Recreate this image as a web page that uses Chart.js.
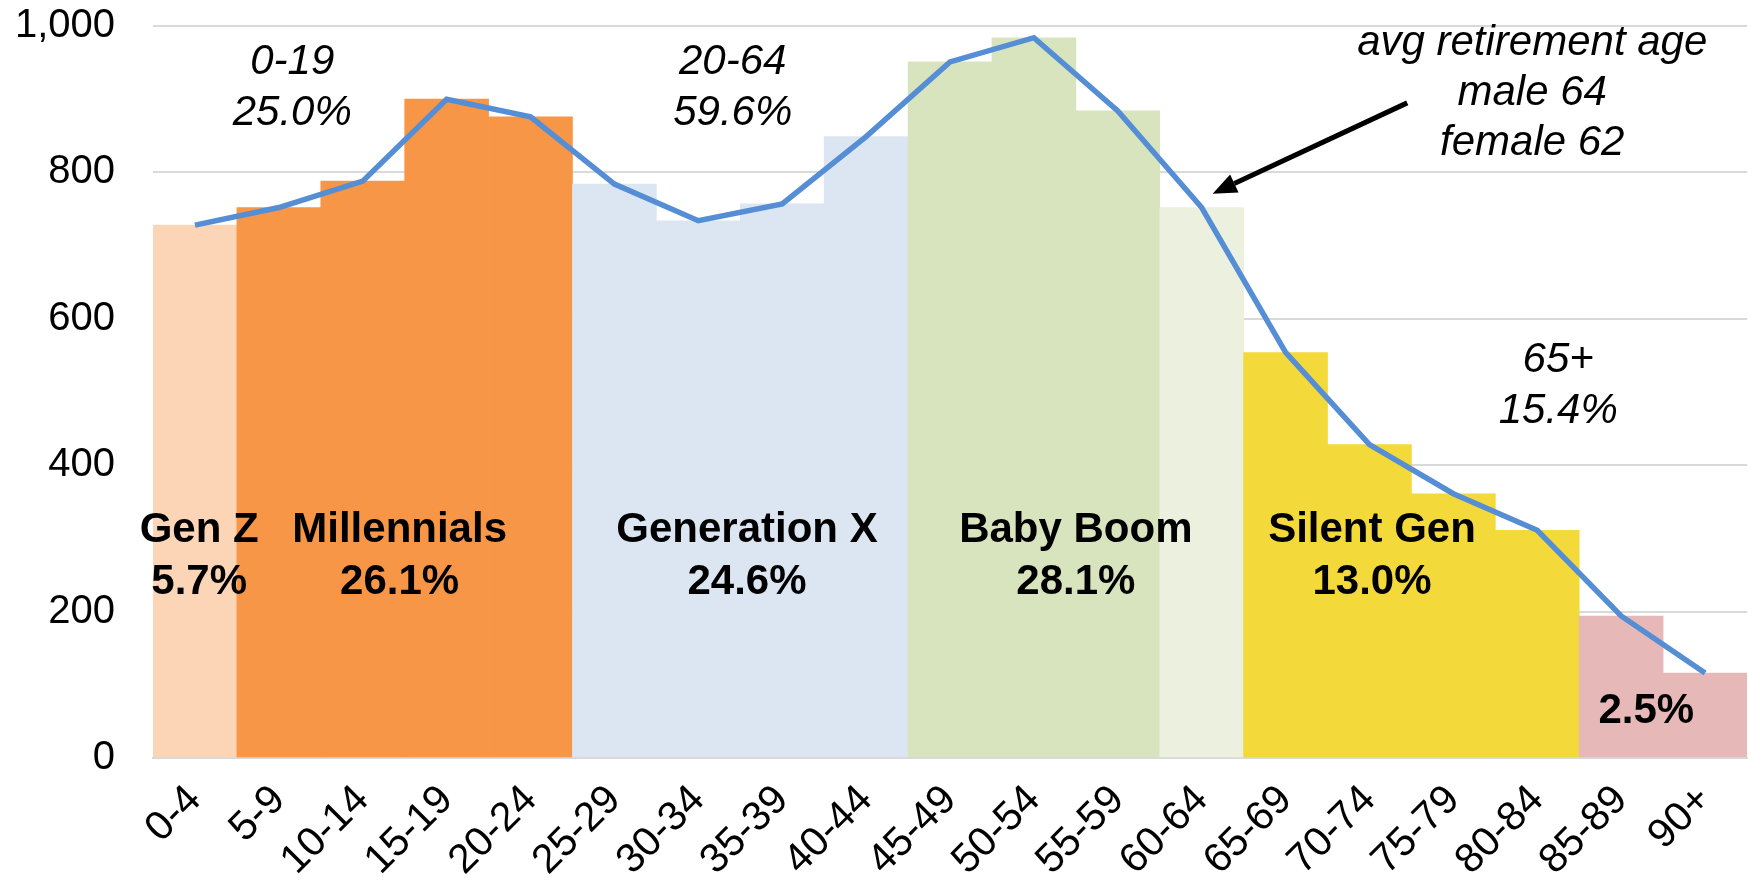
<!DOCTYPE html>
<html>
<head>
<meta charset="utf-8">
<script src="https://cdn.jsdelivr.net/npm/chart.js@4/dist/chart.umd.min.js"></script>
<style>
  html, body { margin: 0; padding: 0; background: #fff; }
  #wrap { width: 1750px; height: 887px; }
</style>
</head>
<body>
<div id="wrap"><canvas id="c" width="1750" height="887"></canvas></div>
<script>
// ---- data ----
const ageGroups = ["0-4","5-9","10-14","15-19","20-24","25-29","30-34","35-39","40-44","45-49","50-54","55-59","60-64","65-69","70-74","75-79","80-84","85-89","90+"];
const population = [728, 752, 788, 900, 876, 784, 734, 757, 849, 951, 984, 884, 752, 554, 428, 361, 311, 194, 116];
const yTicks = [0, 200, 400, 600, 800, 1000];
const generationNames = ["Gen Z", "Millennials", "Generation X", "Baby Boom", "Silent Gen", ""];
const generationShares = ["5.7%", "26.1%", "24.6%", "28.1%", "13.0%", "2.5%"];
const ageBandNames = ["0-19", "20-64", "65+"];
const ageBandShares = ["25.0%", "59.6%", "15.4%"];
const retirementNote = ["avg retirement age", "male 64", "female 62"];

// ---- styles ----
const barColors = ["#FBD5B5","#F79646","#F79646","#F79646","#F79646",
  "#DCE6F2","#DCE6F2","#DCE6F2","#DCE6F2",
  "#D7E4BD","#D7E4BD","#D7E4BD","#EBF1DE",
  "#F3D93A","#F3D93A","#F3D93A","#F3D93A",
  "#E6B9B8","#E6B9B8"];
const FONT = "'Liberation Sans', Arial, Helvetica, sans-serif";

// annotation anchors (category index, value)
const genPos = [[0.05,311],[2.44,311],[6.58,311],[10.5,311],[14.03,311],[17.3,63]];
const bandPos = [[1.16,951],[6.41,951],[16.25,543]];
const notePos = [15.94, 977];
const arrowFrom = [14.45, 895];
const arrowTo = [12.13, 771];

const annotations = {
  id: 'annotations',
  afterDatasetsDraw(chart) {
    const ctx = chart.ctx, xs = chart.scales.x, ys = chart.scales.y;
    const lh = 70.5; // value units per text line
    ctx.save();
    ctx.fillStyle = '#000';
    ctx.textAlign = 'center';
    ctx.textBaseline = 'middle';
    // generation labels (bold)
    ctx.font = "bold 42px " + FONT;
    genPos.forEach((p, i) => {
      const x = xs.getPixelForValue(p[0]);
      if (generationNames[i]) {
        ctx.fillText(generationNames[i], x, ys.getPixelForValue(p[1]));
        ctx.fillText(generationShares[i], x, ys.getPixelForValue(p[1] - lh));
      } else {
        ctx.fillText(generationShares[i], x, ys.getPixelForValue(p[1]));
      }
    });
    // age band labels (italic)
    ctx.font = "italic 42px " + FONT;
    bandPos.forEach((p, i) => {
      const x = xs.getPixelForValue(p[0]);
      ctx.fillText(ageBandNames[i], x, ys.getPixelForValue(p[1]));
      ctx.fillText(ageBandShares[i], x, ys.getPixelForValue(p[1] - 70));
    });
    // retirement note
    const nx = xs.getPixelForValue(notePos[0]);
    retirementNote.forEach((t, i) => {
      ctx.fillText(t, nx, ys.getPixelForValue(notePos[1] - i * 68.5));
    });
    // arrow
    const x1 = xs.getPixelForValue(arrowFrom[0]), y1 = ys.getPixelForValue(arrowFrom[1]);
    const x2 = xs.getPixelForValue(arrowTo[0]), y2 = ys.getPixelForValue(arrowTo[1]);
    const ang = Math.atan2(y2 - y1, x2 - x1);
    const hl = 24, hw = 10;
    const bx = x2 - hl * Math.cos(ang), by = y2 - hl * Math.sin(ang);
    ctx.strokeStyle = '#000';
    ctx.lineWidth = 5;
    ctx.beginPath();
    ctx.moveTo(x1, y1);
    ctx.lineTo(bx, by);
    ctx.stroke();
    ctx.beginPath();
    ctx.moveTo(x2, y2);
    ctx.lineTo(bx + hw * Math.sin(ang), by - hw * Math.cos(ang));
    ctx.lineTo(bx - hw * Math.sin(ang), by + hw * Math.cos(ang));
    ctx.closePath();
    ctx.fill();
    ctx.restore();
  }
};

new Chart(document.getElementById('c'), {
  data: {
    labels: ageGroups,
    datasets: [
      {
        type: 'line',
        data: population,
        borderColor: '#558ED5',
        borderWidth: 5.5,
        pointRadius: 0,
        tension: 0,
        fill: false,
        order: 0
      },
      {
        type: 'bar',
        data: population,
        backgroundColor: barColors,
        borderWidth: 0,
        barPercentage: 1.0,
        categoryPercentage: 1.0,
        order: 1
      }
    ]
  },
  options: {
    responsive: false,
    animation: false,
    devicePixelRatio: 1,
    layout: { padding: { top: 25, right: 3, left: 0, bottom: 0 } },
    plugins: { legend: { display: false }, tooltip: { enabled: false } },
    scales: {
      x: {
        offset: true,
        grid: { display: false, drawTicks: false },
        border: { display: true, color: '#D9D9D9', width: 2 },
        ticks: {
          autoSkip: false,
          minRotation: 45,
          maxRotation: 45,
          color: '#000',
          padding: 18,
          font: { family: FONT, size: 41 }
        },
        afterFit(scale) {
          scale.height = 129;
          scale.paddingLeft = 0;
          scale.paddingRight = 0;
        }
      },
      y: {
        min: 0,
        max: 1000,
        afterBuildTicks(scale) { scale.ticks = yTicks.map(v => ({ value: v })); },
        grid: { color: '#D9D9D9', lineWidth: 2, drawTicks: true, tickLength: 36, tickColor: 'rgba(0,0,0,0)' },
        border: { display: false },
        ticks: {
          color: '#000',
          padding: 2,
          font: { family: FONT, size: 40 },
          callback: v => v.toLocaleString('en-US')
        },
        afterFit(scale) { scale.width = 153; }
      }
    }
  },
  plugins: [annotations]
});
</script>
</body>
</html>
